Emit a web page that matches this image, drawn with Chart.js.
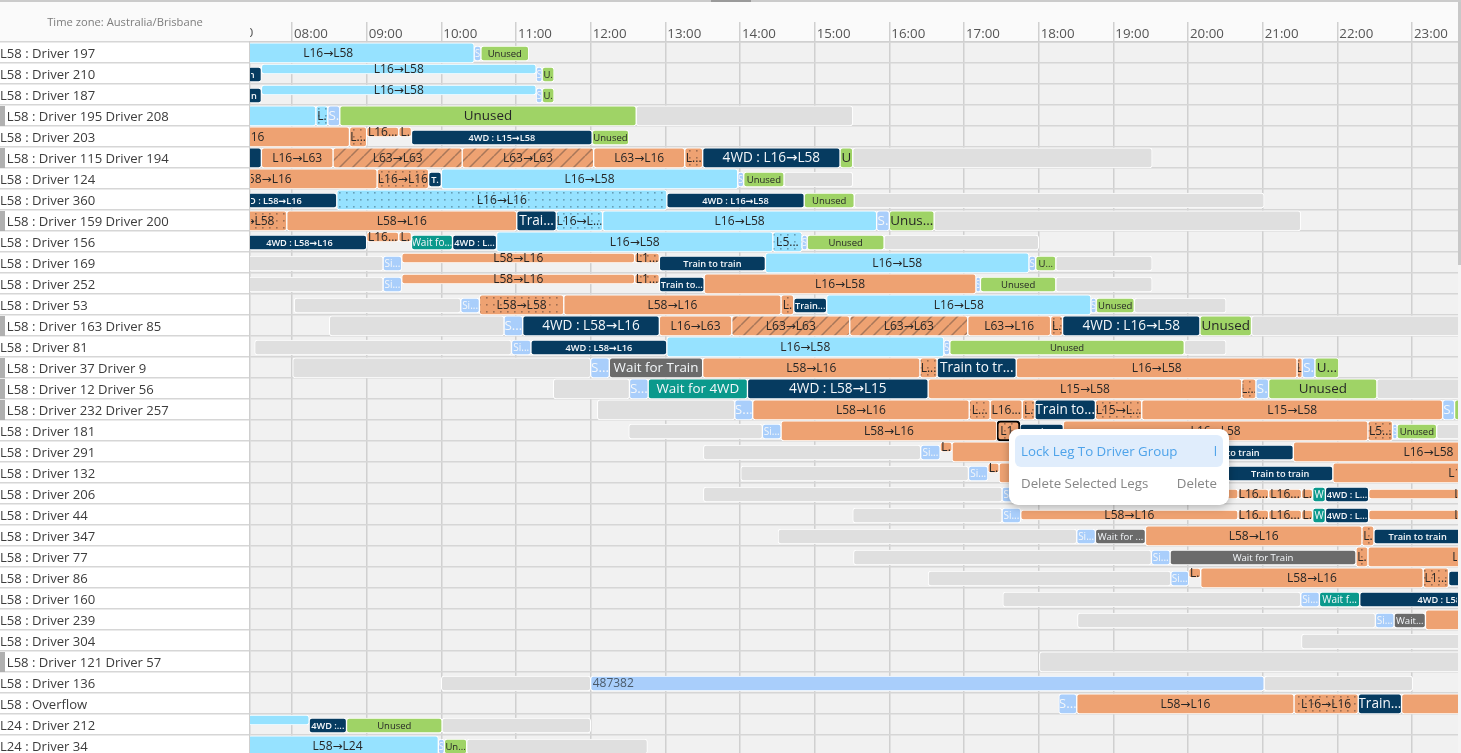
<!DOCTYPE html>
<html><head><meta charset="utf-8">
<script src="https://cdn.jsdelivr.net/npm/chart.js@4/dist/chart.umd.js"></script>
<style>
html,body{margin:0;padding:0;width:1461px;height:753px;overflow:hidden;background:#fafafa;font-family:"Open Sans",sans-serif}
#wrap{position:absolute;left:0;top:0;width:1461px;height:756px}
#topbar{position:absolute;left:0;top:0;width:1461px;height:2px;background:#cbcbcb}
#topthumb{position:absolute;left:711px;top:0;width:40px;height:2px;background:#9a9a9a}
#rightthumb{position:absolute;left:1458px;top:2px;width:3px;height:263px;background:#c8c8c8}
#rightgut{position:absolute;left:1458px;top:2px;width:3px;height:751px;background:#f4f4f4}
#tz{position:absolute;left:0;top:14px;width:250px;text-align:center;font-size:11.2px;line-height:16px;color:#7d7d7d}
#menu{position:absolute;left:1009px;top:429px;width:220px;height:76px;background:#fff;border-radius:9px;box-shadow:0 2px 9px rgba(0,0,0,.28)}
.mi{position:absolute;left:6px;width:208px;height:32px;line-height:32px;border-radius:6px;font-size:13.3px;box-sizing:border-box;padding:0 6px}
.mi span:last-child{position:absolute;right:6px}
#m1{top:6px;background:#e0edfc;color:#4ea3ea}
#m2{top:38px;color:#868686}
</style></head><body>
<div id="wrap"><canvas id="c" width="1461" height="756"></canvas></div>
<div id="topbar"></div><div id="topthumb"></div><div id="rightgut"></div><div id="rightthumb"></div>
<div id="tz">Time zone: Australia/Brisbane</div>
<div id="menu">
 <div class="mi" id="m1"><span>Lock Leg To Driver Group</span><span>l</span></div>
 <div class="mi" id="m2"><span>Delete Selected Legs</span><span>Delete</span></div>
</div>
<script>
const rows=["L58 : Driver 197","L58 : Driver 210","L58 : Driver 187","L58 : Driver 195 Driver 208","L58 : Driver 203","L58 : Driver 115 Driver 194","L58 : Driver 124","L58 : Driver 360","L58 : Driver 159 Driver 200","L58 : Driver 156","L58 : Driver 169","L58 : Driver 252","L58 : Driver 53","L58 : Driver 163 Driver 85","L58 : Driver 81","L58 : Driver 37 Driver 9","L58 : Driver 12 Driver 56","L58 : Driver 232 Driver 257","L58 : Driver 181","L58 : Driver 291","L58 : Driver 132","L58 : Driver 206","L58 : Driver 44","L58 : Driver 347","L58 : Driver 77","L58 : Driver 86","L58 : Driver 160","L58 : Driver 239","L58 : Driver 304","L58 : Driver 121 Driver 57","L58 : Driver 136","L58 : Overflow","L24 : Driver 212","L24 : Driver 34"];
const hourMin=7.4376, hourMax=23.616;

// [row, start hour, end hour, label]
const idleFull=[[3,12.61,15.51],[5,15.51,19.52],[8,16.6,21.51],[13,8.5,10.84],[13,20.85,24.2],[15,8.01,12.0],[16,11.5,12.52],[16,22.53,24.2],[17,12.09,13.93],[29,18.01,26.2]];
const idleMid=[[6,14.59,15.51],[7,15.53,21.02],[9,15.93,18.0],[10,6.0,9.22],[10,18.23,19.52],[11,6.0,9.22],[11,18.23,19.52],[12,8.03,10.26],[12,19.28,20.51],[14,7.5,10.94],[14,19.95,20.51],[18,12.51,14.3],[18,23.33,24.2],[19,13.51,16.42],[20,14.01,17.06],[21,13.51,17.51],[22,15.51,17.51],[23,14.51,18.51],[24,15.52,19.51],[25,16.52,19.77],[26,17.52,21.51],[27,18.52,22.51],[28,21.52,26.2],[30,10.0,12.0],[30,21.02,23.01],[32,10.01,12.0],[33,10.34,12.76]];
const signFull=[[3,8.48,8.64,"S."],[8,15.83,16.0,"S."],[13,10.84,11.09,"S..."],[15,12.0,12.25,"S..."],[15,21.53,21.7,"S."],[16,12.52,12.77,"S..."],[16,20.91,21.08,"S."],[17,13.93,14.17,"S..."],[17,23.41,23.57,"S."],[31,18.27,18.51,"S..."]];
const signMid=[[0,10.44,10.53,"S"],[1,11.27,11.35,"S"],[2,11.27,11.35,"S"],[6,13.97,14.05,"S"],[9,14.83,14.9,"S"],[10,9.22,9.47,"Si..."],[10,17.87,17.96,"S"],[11,9.22,9.47,"Si..."],[11,17.16,17.22,"S"],[12,10.26,10.51,"Si..."],[12,18.7,18.77,"S"],[14,10.94,11.2,"Si..."],[14,16.73,16.81,"S"],[18,14.3,14.55,"Si..."],[18,22.74,22.8,"S"],[19,16.42,16.68,"Si..."],[20,17.06,17.32,"Si..."],[21,17.51,17.76,"Si..."],[22,17.51,17.76,"Si..."],[23,18.51,18.76,"Si..."],[24,19.51,19.76,"Si..."],[25,19.77,20.01,"Si..."],[26,21.51,21.76,"Si..."],[27,22.51,22.76,"Si..."],[33,9.96,10.04,"S"]];
const unusedFull=[[3,8.64,12.61,"Unused"],[5,15.34,15.51,"U"],[8,16.0,16.6,"Unus..."],[13,20.16,20.85,"Unused"],[15,21.7,22.02,"U..."],[16,21.08,22.53,"Unused"],[17,23.57,24.3,"U"]];
const unusedMid=[[0,10.53,11.17,"Unused"],[1,11.35,11.51,"U."],[2,11.35,11.51,"U."],[4,12.02,12.51,"Unused"],[6,14.05,14.59,"Unused"],[7,14.86,15.53,"Unused"],[9,14.9,15.93,"Unused"],[10,17.96,18.23,"U..."],[11,17.22,18.23,"Unused"],[12,18.77,19.28,"Unused"],[14,16.81,19.95,"Unused"],[18,22.8,23.33,"Unused"],[32,8.73,10.01,"Unused"],[33,10.04,10.34,"Un..."]];
const loadedFull=[[0,6.53,10.44,"L16→L58"],[3,5.3,8.32,"L16→L58"],[6,10.0,13.97,"L16→L58"],[8,12.16,15.83,"L16→L58"],[9,10.74,14.44,"L16→L58"],[10,14.34,17.87,"L16→L58"],[12,15.16,18.7,"L16→L58"],[14,13.02,16.73,"L16→L58"],[33,7.26,9.96,"L58→L24"]];
const loadedThin=[[1,7.59,11.27,"L16→L58"],[2,7.59,11.27,"L16→L58"],[32,5.5,8.23,"L16→L58"]];
const loadedDot=[[3,8.32,8.48,"L."],[7,8.6,13.02,"L16→L16"],[8,11.54,12.16,"L16→L..."],[9,14.44,14.83,"L5..."]];
const runFull=[[4,5.82,8.77,"L58→L16"],[5,7.59,8.55,"L16→L63"],[5,12.04,13.26,"L63→L16"],[6,6.18,9.14,"L58→L16"],[8,7.93,11.01,"L58→L16"],[11,13.52,17.16,"L16→L58"],[12,11.64,14.55,"L58→L16"],[13,12.92,13.89,"L16→L63"],[13,17.05,18.16,"L63→L16"],[15,13.5,16.41,"L58→L16"],[15,17.7,21.46,"L16→L58"],[16,16.52,20.72,"L15→L58"],[17,14.17,17.07,"L58→L16"],[17,17.35,17.78,"L16..."],[17,19.38,23.41,"L15→L58"],[18,14.55,17.44,"L58→L16"],[18,18.33,22.41,"L16→L58"],[19,16.84,19.73,"L58→L16"],[19,21.41,25.03,"L16→L58"],[20,17.47,20.53,"L58→L16"],[20,21.94,25.7,"L16→L58"],[23,19.43,22.33,"L58→L16"],[24,22.41,25.34,"L16→L58"],[25,20.17,23.15,"L58→L16"],[27,23.18,26.05,"L58→L16"],[31,18.51,21.42,"L58→L16"],[31,22.86,25.79,"L16→L58"]];
const runThin=[[4,9.0,9.43,"L16..."],[4,9.43,9.6,"L."],[9,9.0,9.43,"L16..."],[9,9.43,9.6,"L."],[10,9.47,12.59,"L58→L16"],[11,9.47,12.59,"L58→L16"],[19,16.68,16.84,"L."],[20,17.32,17.47,"L."],[25,20.01,20.17,"L."]];
const runMid=[[21,17.76,20.67,"L58→L16"],[21,20.67,21.08,"L16..."],[21,21.08,21.52,"L16..."],[21,21.52,21.67,"L."],[21,22.42,25.38,"L16→L58"],[22,17.76,20.67,"L58→L16"],[22,20.67,21.08,"L16..."],[22,21.08,21.52,"L16..."],[22,21.52,21.67,"L."],[22,22.42,25.38,"L16→L58"]];
const runDot=[[4,8.77,9.0,"L..."],[5,13.26,13.5,"L..."],[6,9.14,9.83,"L16→L16"],[8,6.93,7.93,"L16→L58"],[12,10.51,11.64,"L58→L58"],[12,14.55,14.72,"L."],[13,18.16,18.32,"L."],[15,16.41,16.64,"L..."],[15,21.46,21.53,"L"],[16,20.72,20.91,"L..."],[17,17.07,17.35,"L..."],[17,17.78,17.95,"L."],[17,18.76,19.38,"L15→L..."],[18,22.41,22.74,"L5..."],[23,22.33,22.49,"L."],[24,22.25,22.41,"L."],[25,23.15,23.49,"L1..."],[31,21.42,22.28,"L16→L16"]];
const runDotThin=[[10,12.59,12.92,"L1..."],[11,12.59,12.92,"L1..."]];
const selectedLeg=[[18,17.44,17.75,"L1."]];
const hatched=[[5,8.55,10.28,"L63→L63"],[5,10.28,12.04,"L63→L63"],[13,13.89,15.47,"L63→L63"],[13,15.47,17.05,"L63→L63"]];
const fwdFull=[[5,6.1,7.59,""],[5,13.5,15.34,"4WD : L16→L58"],[8,11.01,11.54,"Trai..."],[13,11.09,12.92,"4WD : L58→L16"],[13,18.32,20.16,"4WD : L16→L58"],[15,16.64,17.7,"Train to tr..."],[16,14.1,16.52,"4WD : L58→L15"],[17,17.95,18.76,"Train to..."],[31,22.28,22.86,"Train..."]];
const fwdMid=[[1,6.63,7.59,"Train to train"],[2,6.69,7.59,"Train to train"],[4,9.6,12.02,"4WD : L15→L58"],[6,9.83,10.0,"T."],[7,6.77,8.6,"4WD : L58→L16"],[7,13.02,14.86,"4WD : L16→L58"],[9,7.2,9.0,"4WD : L58→L16"],[9,10.15,10.74,"4WD : L..."],[10,12.92,14.34,"Train to train"],[11,12.92,13.52,"Train to..."],[12,14.72,15.16,"Train..."],[14,11.2,13.02,"4WD : L58→L16"],[18,17.75,18.33,"Train..."],[19,19.73,21.41,"Train to train"],[20,20.53,21.94,"Train to train"],[21,21.84,22.42,"4WD : L..."],[22,21.84,22.42,"4WD : L..."],[23,22.49,23.66,"Train to train"],[25,23.49,24.44,""],[26,22.3,24.74,"4WD : L58→L16"],[32,8.23,8.73,"4WD :..."]];
const waitFwdFull=[[16,12.77,14.1,"Wait for 4WD"]];
const waitFwdMid=[[9,9.6,10.15,"Wait fo..."],[21,21.67,21.84,"W"],[22,21.67,21.84,"W"],[26,21.76,22.3,"Wait f..."]];
const waitTrainFull=[[15,12.25,13.5,"Wait for Train"]];
const waitTrainMid=[[23,18.76,19.43,"Wait for ..."],[24,19.76,22.25,"Wait for Train"],[27,22.76,23.18,"Wait..."]];
const jobs=[[30,12.0,21.02,"487382"]];

function dots(bg,fg){const w=7,h=7,t=document.createElement('canvas');t.width=w;t.height=h;const g=t.getContext('2d');g.fillStyle=bg;g.fillRect(0,0,w,h);g.fillStyle=fg;g.fillRect(3,3,1.6,1.6);return g.createPattern(t,'repeat');}
function hatch(bg,fg){const s=13,t=document.createElement('canvas');t.width=s;t.height=s;const g=t.getContext('2d');g.fillStyle=bg;g.fillRect(0,0,s,s);g.strokeStyle=fg;g.lineWidth=1.5;g.beginPath();for(const o of[-s,0,s]){g.moveTo(o,s);g.lineTo(o+s,0);}g.stroke();return g.createPattern(t,'repeat');}

const FAM='"Open Sans","DejaVu Sans",sans-serif', DARK='#262626', WHITE='#f4f7fa';
const CY='#96e2ff',OR='#eea272',NV='#063b60',GR='#9fd366',SB='#a9cefb',GY='#dfdfdf',TL='#0a998c',DG='#6b6b6b';
const FULL={t:20,s:.3},MID={t:15,s:1},TOP={t:10,s:-4.5},CEN={t:10,s:.5};
const layers=[
 [idleFull,GY,FULL],[idleMid,GY,MID],
 [signFull,SB,FULL,'400 13.4px',WHITE],[signMid,SB,MID,'400 10px',WHITE],
 [unusedFull,GR,FULL,'400 13.4px',DARK],[unusedMid,GR,MID,'400 9.5px',DARK],
 [loadedFull,CY,FULL,'400 12px',DARK],[loadedThin,CY,TOP,'400 12px',DARK],[loadedDot,dots(CY,'#669fb8'),FULL,'400 12px',DARK],
 [runFull,OR,FULL,'400 12px',DARK],[runThin,OR,TOP,'400 12px',DARK],[runMid,OR,CEN,'400 12px',DARK],
 [runDot,dots(OR,'#a06e50'),FULL,'400 12px',DARK],[runDotThin,dots(OR,'#a06e50'),TOP,'400 12px',DARK],
 [hatched,hatch(OR,'#a8775a'),FULL,'400 12px',DARK],
 [fwdFull,NV,FULL,'400 13.6px',WHITE],[fwdMid,NV,MID,'600 9.2px',WHITE],
 [waitFwdFull,TL,FULL,'400 13.4px',WHITE],[waitFwdMid,TL,MID,'400 10px',WHITE],
 [waitTrainFull,DG,FULL,'400 13.4px',WHITE],[waitTrainMid,DG,MID,'400 9.6px',WHITE],
 [jobs,SB,MID,'400 12px','#4a5a6a','left'],
 [selectedLeg,dots(OR,'#a06e50'),FULL,'400 12px',DARK,'center','#000']
];
const datasets=layers.map(([d,bg,k,font,color,align,edge])=>({
 data:d.map(b=>({x:[b[1],b[2]],y:rows[b[0]],text:b[3]||''})),
 backgroundColor:bg,borderColor:edge||'#fff',borderWidth:edge?2:1,borderRadius:edge?4:3,borderSkipped:false,
 barThickness:k.t,grouped:false,shift:k.s,labelFont:font,labelColor:color,labelAlign:align||'center'
}));

const paint={id:'paint',
 beforeDraw(ch){const c=ch.ctx,a=ch.chartArea;c.save();c.fillStyle='#fff';c.fillRect(0,a.top,a.left,a.bottom-a.top);c.fillStyle='#f1f1f1';c.fillRect(a.left,a.top,a.right-a.left,a.bottom-a.top);c.restore();},
 afterDatasetsUpdate(ch){ch.data.datasets.forEach((d,i)=>ch.getDatasetMeta(i).data.forEach(e=>{e.y+=d.shift;}));},
 afterDraw(ch){const c=ch.ctx,a=ch.chartArea,ys=ch.scales.y,xs=ch.scales.x;c.save();
  c.fillStyle='#b0b0b0';rows.forEach((r,i)=>{if(r.split('Driver').length>2){const p=ys.getPixelForValue(i);c.fillRect(0,p-9.5,5,20);}});
  c.beginPath();c.rect(a.left,0,40,a.top);c.clip();c.fillStyle=xs.options.ticks.color;c.font=`13.3px ${FAM}`;c.textBaseline='middle';c.textAlign='left';c.fillText('07:00',xs.getPixelForValue(7)+2,33);c.restore();},
 afterDatasetsDraw(ch){const c=ch.ctx,a=ch.chartArea;ch.data.datasets.forEach((d,i)=>{if(!d.labelFont)return;
  ch.getDatasetMeta(i).data.forEach((e,j)=>{const t=d.data[j].text;if(!t)return;
   const l=Math.min(e.x,e.base),r=Math.max(e.x,e.base),cl=Math.max(l,a.left),cr=Math.min(r,a.right);if(cr<=cl)return;
   c.save();c.beginPath();c.rect(cl+1,e.y-14,cr-cl-2,28);c.clip();c.font=`${d.labelFont} ${FAM}`;c.fillStyle=d.labelColor;c.textBaseline='middle';
   if(d.labelAlign==='left'){c.textAlign='left';c.fillText(t,l+2,e.y+.5);}else{c.textAlign='center';c.fillText(t,(l+r)/2,e.y+.5);}
   c.restore();});});}
};

new Chart(document.getElementById('c'),{type:'bar',plugins:[paint],
 data:{labels:rows,datasets},
 options:{indexAxis:'y',responsive:false,animation:false,devicePixelRatio:1,
  layout:{padding:{left:0,right:3,top:0,bottom:0}},
  plugins:{legend:{display:false},tooltip:{enabled:false},title:{display:false}},
  scales:{
   x:{type:'linear',position:'top',min:hourMin,max:hourMax,
    afterFit(s){s.height=42;s.paddingLeft=0;s.paddingRight=0;s.paddingTop=0;s.paddingBottom=0;},
    border:{display:true,color:'#d0d0d0',width:1.5},
    grid:{color:'#d0d0d0',lineWidth:1.5,tickLength:20,tickColor:'#d0d0d0',drawTicks:true},
    ticks:{stepSize:1,includeBounds:false,autoSkip:false,maxRotation:0,align:'start',labelOffset:2,padding:-20,color:'#555',font:{family:FAM,size:13.3},
     callback:v=>String(v).padStart(2,'0')+':00'}},
   y:{type:'category',position:'left',
    afterFit(s){s.width=250;s.paddingTop=0;s.paddingBottom=0;s.paddingLeft=0;s.paddingRight=0;},
    border:{display:true,color:'#cfcfcf',width:1.5},
    grid:{color:'#d6d6d6',lineWidth:1.5,offset:true,tickLength:250,tickColor:'#d6d6d6'},
    ticks:{autoSkip:false,crossAlign:'far',color:'#3c3c3c',font:{family:FAM,size:13.1},padding:0,labelOffset:1.5,
     callback(v){const r=rows[v];return r.split('Driver').length>2?'  '+r:r;}}}
  }}});
</script></body></html>
